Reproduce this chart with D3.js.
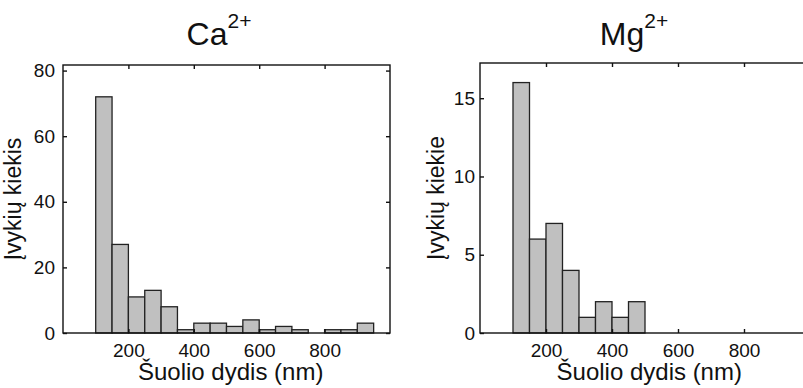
<!DOCTYPE html>
<html>
<head>
<meta charset="utf-8">
<script src="https://cdn.jsdelivr.net/npm/d3@7"></script>
<style>
  body { margin: 0; background: #fff; }
  svg text { font-family: "Liberation Sans", Arial, sans-serif; fill: #111; }
</style>
</head>
<body>
<svg id="chart" width="803" height="388"></svg>
<script>
// histogram bins (nm), 50 nm wide
const binWidth = 50;
const caBins = [100, 150, 200, 250, 300, 350, 400, 450, 500, 550, 600, 650, 700, 750, 800, 850, 900];
const caCounts = [72, 27, 11, 13, 8, 1, 3, 3, 2, 4, 1, 2, 1, 0, 1, 1, 3];
const mgBins = [100, 150, 200, 250, 300, 350, 400, 450];
const mgCounts = [16, 6, 7, 4, 1, 2, 1, 2];
const xTicks = [200, 400, 600, 800];
const caYTicks = [0, 20, 40, 60, 80];
const mgYTicks = [0, 5, 10, 15];

const svg = d3.select("#chart");

// Function to draw one histogram panel
function drawPanel(opts) {
    const { left, right, top, bottom, bins, counts, yMax, yTicks, yPad,
            title, ylabel, titleX, ylabelX } = opts;

    const x = d3.scaleLinear().domain([0, 1000]).range([left, right]);
    const y = d3.scaleLinear().domain([0, yMax]).range([bottom, top]);

    const g = svg.append("g");

    // bars
    g.selectAll("rect.bar")
        .data(bins.map((b, i) => ({ x0: b, x1: b + binWidth, n: counts[i] })))
        .join("rect")
        .attr("class", "bar")
        .attr("x", d => x(d.x0))
        .attr("y", d => y(d.n))
        .attr("width", d => x(d.x1) - x(d.x0))
        .attr("height", d => y(0) - y(d.n))
        .attr("fill", "#c0c0c0")
        .attr("stroke", "#222")
        .attr("stroke-width", 1.3);

    // box
    g.append("rect")
        .attr("x", left)
        .attr("y", top)
        .attr("width", right - left)
        .attr("height", bottom - top)
        .attr("fill", "none")
        .attr("stroke", "#111")
        .attr("stroke-width", 1.4);

    // bottom axis, ticks pointing inward
    const xb = g.append("g")
        .attr("transform", `translate(0,${bottom})`)
        .call(d3.axisBottom(x).tickValues(xTicks).tickSizeInner(-4).tickSizeOuter(0).tickPadding(11));
    // top axis, ticks only
    const xt = g.append("g")
        .attr("transform", `translate(0,${top})`)
        .call(d3.axisTop(x).tickValues(xTicks).tickSizeInner(-4).tickSizeOuter(0).tickFormat(""));
    // left axis
    const yl = g.append("g")
        .attr("transform", `translate(${left},0)`)
        .call(d3.axisLeft(y).tickValues(yTicks).tickSizeInner(-4).tickSizeOuter(0).tickPadding(yPad));
    // right axis, ticks only
    const yr = g.append("g")
        .attr("transform", `translate(${right},0)`)
        .call(d3.axisRight(y).tickValues(yTicks).tickSizeInner(-4).tickSizeOuter(0).tickFormat(""));

    [xb, xt, yl, yr].forEach(a => {
        a.select(".domain").remove();
        a.selectAll("line").attr("stroke", "#111").attr("stroke-width", 1.4);
        a.selectAll("text")
            .style("font-family", "'Liberation Sans', Arial, sans-serif")
            .style("font-size", "19px")
            .attr("fill", "#111");
    });

    // x label
    g.append("text")
        .attr("x", (x(100) + x(950)) / 2 - 4)
        .attr("y", 380)
        .attr("text-anchor", "middle")
        .style("font-size", "24px")
        .text("Šuolio dydis (nm)");

    // y label
    g.append("text")
        .attr("transform", `translate(${ylabelX},${(top + bottom) / 2}) rotate(-90)`)
        .attr("text-anchor", "middle")
        .style("font-size", "23px")
        .text(ylabel);

    // title with superscript
    const t = g.append("text")
        .attr("x", titleX)
        .attr("y", 45)
        .attr("text-anchor", "middle")
        .style("font-size", "32px");
    t.append("tspan").text(title);
    t.append("tspan").attr("dy", -17).style("font-size", "21px").text("2+");
}

drawPanel({
    left: 63, right: 390, top: 65, bottom: 333,
    bins: caBins, counts: caCounts, yMax: 81.7, yTicks: caYTicks, yPad: 8,
    title: "Ca", ylabel: "Įvykių kiekis", titleX: 219, ylabelX: 21
});

drawPanel({
    left: 480, right: 810, top: 63, bottom: 333,
    bins: mgBins, counts: mgCounts, yMax: 17.25, yTicks: mgYTicks, yPad: 5,
    title: "Mg", ylabel: "Įvykių kiekie", titleX: 634, ylabelX: 444
});
</script>
</body>
</html>
